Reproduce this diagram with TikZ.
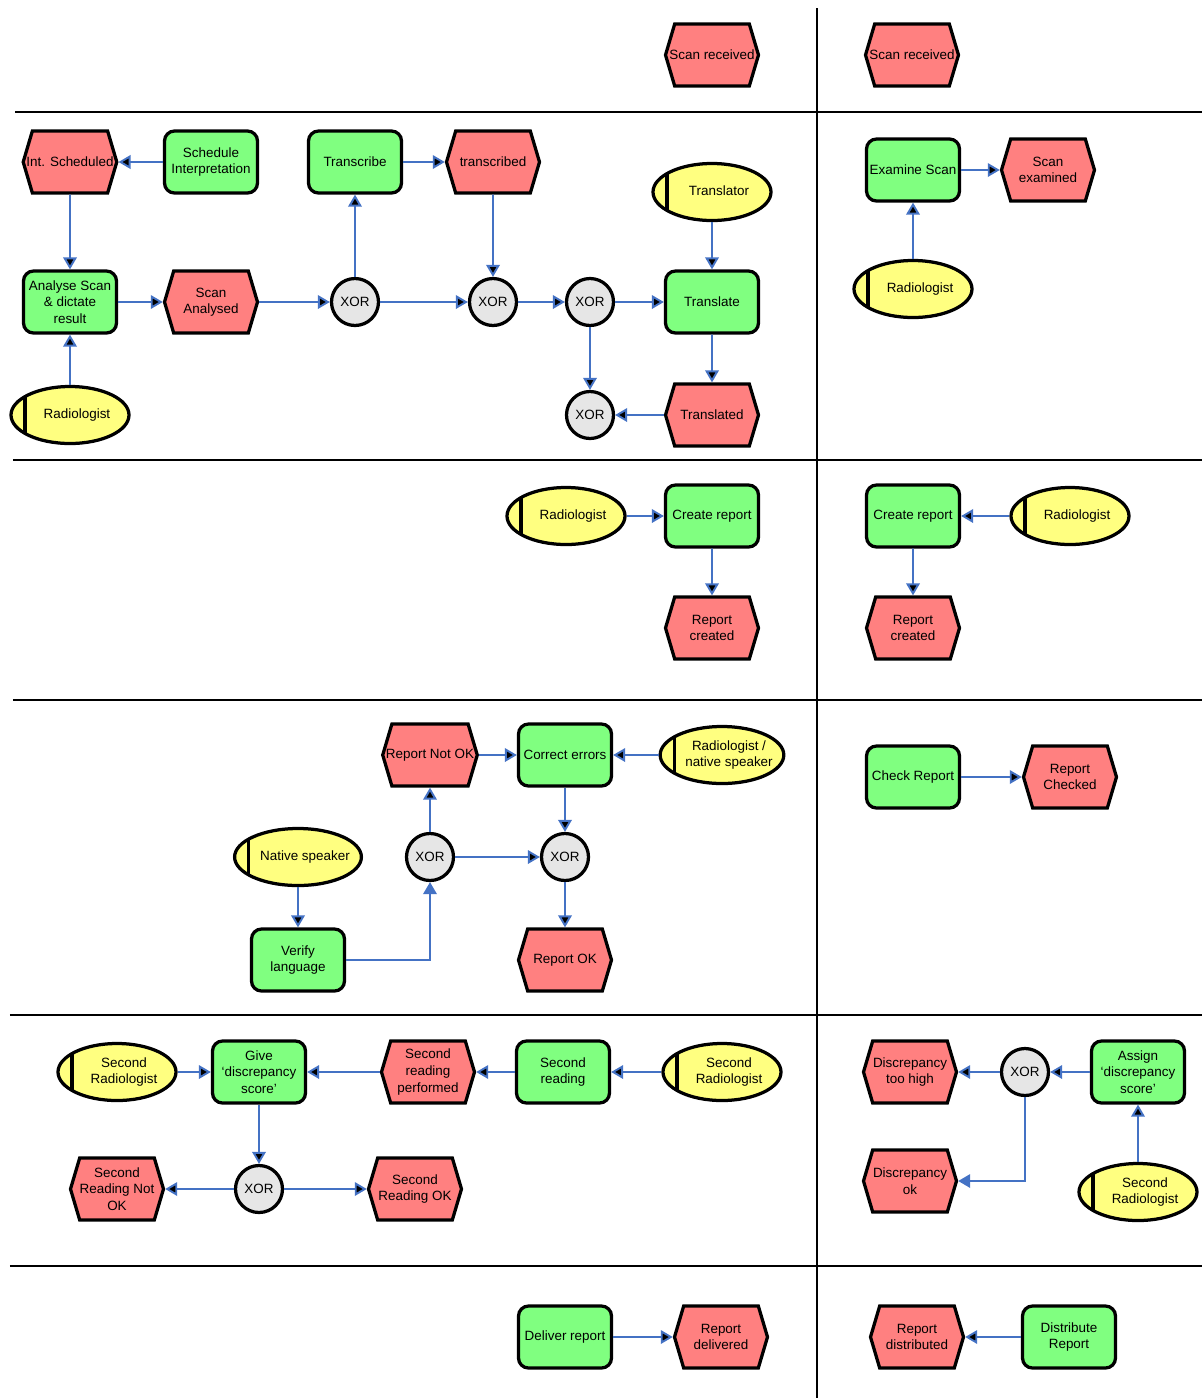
\documentclass[tikz,border=0pt]{standalone}
\usepackage{fontspec}
\setmainfont{Liberation Sans}
\usepackage{xcolor}
\usepackage{tikz}
\usetikzlibrary{arrows.meta, shapes.geometric, shapes.symbols}

\definecolor{funcgreen}{RGB}{128,255,128}
\definecolor{eventred}{RGB}{255,128,128}
\definecolor{roleyellow}{RGB}{255,255,128}
\definecolor{xorgrey}{RGB}{230,230,230}
\definecolor{flowblue}{RGB}{68,114,196}

% role text sits a bit right of the ellipse centre, past the bar
\newcommand{\rolelabel}[1]{\hspace*{0.14cm}\begin{tabular}{@{}c@{}}#1\end{tabular}\hspace*{-0.14cm}}

\begin{document}
\begin{tikzpicture}[>={Triangle[length=0.24cm, width=0.27cm]}, shorten >= 0pt,
                    node distance=2.8cm, font=\fontsize{7.65}{9.4}\selectfont]
\tikzstyle{func}=[shape=rectangle, rounded corners=0.2cm, draw=black, fill=funcgreen,
                    line width=1.85pt, minimum width=1.86cm, minimum height=1.24cm,
                    inner sep=1pt, align=center]
\tikzstyle{event}=[shape=signal, signal to=east and west, signal pointer angle=147,
                    draw=black, fill=eventred, line width=1.85pt, minimum width=1.86cm,
                    minimum height=1.24cm, inner xsep=-3.4pt, inner ysep=1pt, align=center]
\tikzstyle{xorgate}=[shape=circle, draw=black, fill=xorgrey, line width=1.85pt,
                    minimum size=0.94cm, inner sep=0pt]
\tikzstyle{role}=[shape=ellipse, draw=black, fill=roleyellow, line width=1.85pt,
                    minimum width=2.36cm, minimum height=1.14cm, inner sep=0pt,
                    path picture={\draw[line width=1.85pt]
                      ([xshift=0.28cm]path picture bounding box.south west) --
                      ([xshift=0.28cm]path picture bounding box.north west);}]
\tikzstyle{flow}=[draw=flowblue, line width=1.1pt]
\tikzstyle{lane}=[draw=black, line width=1.6pt]
  \useasboundingbox (0,0) rectangle (24.04,-27.96);
  % lanes
  \draw[lane] (0.30,-2.24) -- (24.04,-2.24);
  \draw[lane] (0.26,-9.20) -- (24.04,-9.20);
  \draw[lane] (0.26,-14.00) -- (24.04,-14.00);
  \draw[lane] (0.20,-20.30) -- (24.04,-20.30);
  \draw[lane] (0.20,-25.32) -- (24.04,-25.32);
  \draw[lane] (16.34,-0.16) -- (16.34,-27.96);
  % start
  \node[event] (Recv)  at (14.24,-1.10) {Scan received};
  \node[event] (RecvB) [right of=Recv, node distance=4cm] {Scan received};
  % interpretation
  \node[event] (IntSched)  at (1.40,-3.24) {Int. Scheduled};
  \node[func]  (SchedInt)  [right of=IntSched, node distance=2.82cm] {Schedule\\Interpretation};
  \node[func]  (Analyse)   [below of=IntSched] {Analyse Scan\\\& dictate\\result};
  \node[event] (Analysed)  [right of=Analyse, node distance=2.82cm] {Scan\\Analysed};
  \node[role]  (Rad)       [below of=Analyse, node distance=2.26cm] {\rolelabel{Radiologist}};
  \node[xorgate] (XorA)    [right of=Analysed, node distance=2.88cm] {XOR};
  \node[func]  (Transcr)   [above of=XorA] {Transcribe};
  \node[xorgate] (XorB)    [right of=XorA, node distance=2.76cm] {XOR};
  \node[event] (Transcd)   [above of=XorB] {transcribed};
  \node[xorgate] (XorC)    [right of=XorB, node distance=1.94cm] {XOR};
  \node[func]  (Transl)    [right of=XorC, node distance=2.44cm] {Translate};
  \node[role]  (Translr)   [above of=Transl, node distance=2.2cm] {\rolelabel{Translator}};
  \node[event] (Transld)   [below of=Transl, node distance=2.26cm] {Translated};
  \node[xorgate] (XorD)    [below of=XorC, node distance=2.26cm] {XOR};
  \node[func]  (Examine)   at (18.26,-3.40) {Examine Scan};
  \node[event] (Examined)  [right of=Examine, node distance=2.7cm] {Scan\\examined};
  \node[role]  (RadB)      [below of=Examine, node distance=2.38cm] {\rolelabel{Radiologist}};
  \path[->, flow] (SchedInt) edge (IntSched);
  \path[->, flow] (IntSched) edge (Analyse);
  \path[->, flow] (Rad)      edge (Analyse);
  \path[->, flow] (Analyse)  edge (Analysed);
  \path[->, flow] (Analysed) edge (XorA);
  \path[->, flow] (XorA)     edge (Transcr);
  \path[->, flow] (XorA)     edge (XorB);
  \path[->, flow] (Transcr)  edge (Transcd);
  \path[->, flow] (Transcd)  edge (XorB);
  \path[->, flow] (XorB)     edge (XorC);
  \path[->, flow] (XorC)     edge (Transl);
  \path[->, flow] (Translr)  edge (Transl);
  \path[->, flow] (Transl)   edge (Transld);
  \path[->, flow] (Transld)  edge (XorD);
  \path[->, flow] (XorC)     edge (XorD);
  \path[->, flow] (Examine)  edge (Examined);
  \path[->, flow] (RadB)     edge (Examine);
  % report
  \node[func]  (Create)    at (14.24,-10.32) {Create report};
  \node[role]  (RadC)      [left of=Create, node distance=2.92cm] {\rolelabel{Radiologist}};
  \node[event] (Created)   [below of=Create, node distance=2.24cm] {Report\\created};
  \node[func]  (CreateB)   [right of=Create, node distance=4.02cm] {Create report};
  \node[role]  (RadD)      [right of=CreateB, node distance=3.14cm] {\rolelabel{Radiologist}};
  \node[event] (CreatedB)  [below of=CreateB, node distance=2.24cm] {Report\\created};
  \path[->, flow] (RadC)    edge (Create);
  \path[->, flow] (Create)  edge (Created);
  \path[->, flow] (RadD)    edge (CreateB);
  \path[->, flow] (CreateB) edge (CreatedB);
  % check
  \node[func]  (Correct)   at (11.30,-15.10) {Correct errors};
  \node[event] (NotOK)     [left of=Correct, node distance=2.7cm] {Report Not OK};
  \node[role]  (RadNat)    [right of=Correct, node distance=3.14cm] {\rolelabel{Radiologist /\\native speaker}};
  \node[xorgate] (XorF)    [below of=Correct, node distance=2.04cm] {XOR};
  \node[xorgate] (XorE)    [left of=XorF, node distance=2.7cm] {XOR};
  \node[event] (RepOK)     [below of=XorF, node distance=2.06cm] {Report OK};
  \node[role]  (Native)    [left of=XorE, node distance=2.64cm] {\rolelabel{Native speaker}};
  \node[func]  (Verify)    [below of=Native, node distance=2.06cm] {Verify\\language};
  \node[func]  (Check)     at (18.26,-15.54) {Check Report};
  \node[event] (Checked)   [right of=Check, node distance=3.14cm] {Report\\Checked};
  \path[->, flow] (NotOK)   edge (Correct);
  \path[->, flow] (RadNat)  edge (Correct);
  \path[->, flow] (Correct) edge (XorF);
  \path[->, flow] (XorE)    edge (NotOK);
  \path[->, flow] (XorE)    edge (XorF);
  \path[->, flow] (XorF)    edge (RepOK);
  \path[->, flow] (Native)  edge (Verify);
  \draw[->, flow] (Verify) -| (XorE);
  \path[->, flow] (Check)   edge (Checked);
  % second reading
  \node[func]  (Give)      at (5.18,-21.44) {Give\\‘discrepancy\\score’};
  \node[role]  (RadE)      [left of=Give, node distance=2.84cm] {\rolelabel{Second\\Radiologist}};
  \node[event] (Performed) [right of=Give, node distance=3.38cm] {Second\\reading\\performed};
  \node[func]  (Second)    [right of=Performed, node distance=2.7cm] {Second\\reading};
  \node[role]  (RadF)      [right of=Second, node distance=3.18cm] {\rolelabel{Second\\Radiologist}};
  \node[xorgate] (XorG)    [below of=Give, node distance=2.34cm] {XOR};
  \node[event] (SecNotOK)  [left of=XorG, node distance=2.84cm] {Second\\Reading Not\\OK};
  \node[event] (SecOK)     [right of=XorG, node distance=3.12cm] {Second\\Reading OK};
  \node[xorgate] (XorH)    at (20.50,-21.44) {XOR};
  \node[event] (TooHigh)   [left of=XorH, node distance=2.3cm] {Discrepancy\\too high};
  \node[func]  (Assign)    [right of=XorH, node distance=2.26cm] {Assign\\‘discrepancy\\score’};
  \node[event] (DiscOK)    [below of=TooHigh, node distance=2.18cm] {Discrepancy\\ok};
  \node[role]  (RadG)      [below of=Assign, node distance=2.4cm] {\rolelabel{Second\\Radiologist}};
  \path[->, flow] (RadE)      edge (Give);
  \path[->, flow] (Performed) edge (Give);
  \path[->, flow] (Second)    edge (Performed);
  \path[->, flow] (RadF)      edge (Second);
  \path[->, flow] (Give)      edge (XorG);
  \path[->, flow] (XorG)      edge (SecNotOK);
  \path[->, flow] (XorG)      edge (SecOK);
  \path[->, flow] (Assign)    edge (XorH);
  \path[->, flow] (XorH)      edge (TooHigh);
  \draw[->, flow] (XorH) |- (DiscOK);
  \path[->, flow] (RadG)      edge (Assign);
  % delivery
  \node[func]  (Deliver)   at (11.30,-26.74) {Deliver report};
  \node[event] (Delivered) [right of=Deliver, node distance=3.12cm] {Report\\delivered};
  \node[event] (Distrd)    [right of=Delivered, node distance=3.92cm] {Report\\distributed};
  \node[func]  (Distr)     [right of=Distrd, node distance=3.04cm] {Distribute\\Report};
  \path[->, flow] (Deliver) edge (Delivered);
  \path[->, flow] (Distr)   edge (Distrd);
\end{tikzpicture}
\end{document}
